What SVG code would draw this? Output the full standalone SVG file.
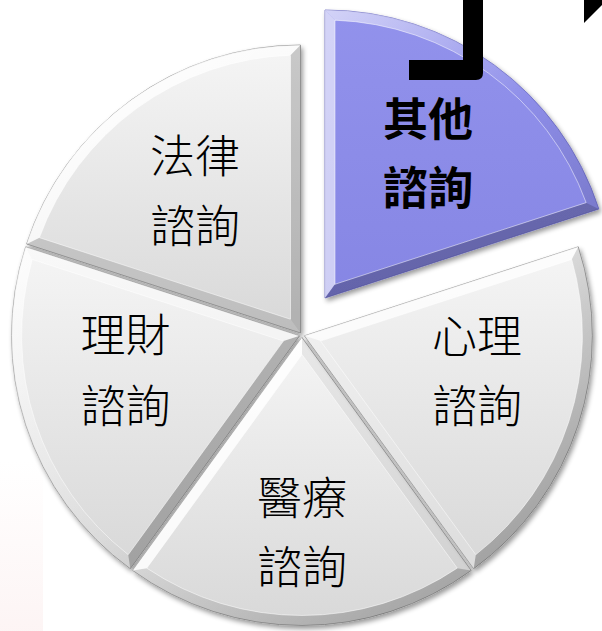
<svg xmlns="http://www.w3.org/2000/svg" width="602" height="631" viewBox="0 0 602 631">
<style>
.base{stroke:#8f8f8f;stroke-width:0.8}
.gray{fill:url(#gGray)}
.purple{fill:url(#gPurple)}
.arc{fill:url(#gArc)}
.hi{fill:#fff}
.lo{fill:#000}
.ridge{fill:none;stroke:#fff;stroke-opacity:0.5;stroke-width:1}
.t{font-family:"Noto Sans CJK TC","Microsoft JhengHei",sans-serif;font-size:45px;font-weight:300;fill:#000;text-anchor:middle}
.tb{font-weight:700}
</style>
<defs>
<linearGradient id="gGray" x1="0" y1="0" x2="0" y2="1">
<stop offset="0" stop-color="#f5f5f5"/>
<stop offset="1" stop-color="#d8d8d8"/>
</linearGradient>
<linearGradient id="gPurple" x1="0" y1="0" x2="0" y2="1">
<stop offset="0" stop-color="#9292ec"/>
<stop offset="1" stop-color="#8686e4"/>
</linearGradient>
<linearGradient id="gArc" gradientUnits="userSpaceOnUse" x1="-204" y1="-204" x2="204" y2="204">
<stop offset="0" stop-color="#fff" stop-opacity="0.85"/>
<stop offset="0.5" stop-color="#fff" stop-opacity="0"/>
<stop offset="0.5" stop-color="#000" stop-opacity="0"/>
<stop offset="1" stop-color="#000" stop-opacity="0.25"/>
</linearGradient>
<linearGradient id="gPink" x1="0" y1="0" x2="0" y2="1">
<stop offset="0" stop-color="#fbecec" stop-opacity="0"/>
<stop offset="1" stop-color="#fbecec" stop-opacity="0.55"/>
</linearGradient>
<filter id="sh" x="-10%" y="-10%" width="125%" height="125%">
<feGaussianBlur in="SourceAlpha" stdDeviation="2.5"/>
<feOffset dx="1.5" dy="2.5"/>
<feComponentTransfer><feFuncA type="linear" slope="0.4"/></feComponentTransfer>
<feMerge><feMergeNode/><feMergeNode in="SourceGraphic"/></feMerge>
</filter>
</defs>
<rect x="0" y="0" width="602" height="631" fill="#fff"/>
<rect x="0" y="460" width="43" height="171" fill="url(#gPink)"/>

<g id="node-legal">
<g transform="translate(300.5,333)" filter="url(#sh)">
<path class="gray base" d="M0,0 L-273.91,-89 A288,288 0 0 1 0,-288 Z"/>
<path class="lo" fill-opacity="0.12" d="M0,0 L-273.91,-89 L-261.13,-95.36 L-9.99,-13.75 Z"/>
<path class="arc" d="M-273.91,-89 A288,288 0 0 1 0,-288 L-9.99,-277.82 A278,278 0 0 0 -261.13,-95.36 Z"/>
<path class="lo" fill-opacity="0.18" d="M0,0 L0,-288 L-9.99,-277.82 L-9.99,-13.75 Z"/>
<path class="ridge" d="M-9.99,-13.75 L-261.13,-95.36 A278,278 0 0 1 -9.99,-277.82 Z"/>
</g>
<text class="t" x="195" y="173">法律</text>
<text class="t" x="195" y="243">諮詢</text>
</g>

<g id="node-finance">
<g transform="translate(299.6,335.8)" filter="url(#sh)">
<path class="gray base" d="M0,0 L-169.28,233 A288,288 0 0 1 -273.91,-89 Z"/>
<path class="lo" fill-opacity="0.25" d="M0,0 L-169.28,233 L-171.38,218.89 L-16.17,5.25 Z"/>
<path class="arc" d="M-169.28,233 A288,288 0 0 1 -273.91,-89 L-267.31,-76.35 A278,278 0 0 0 -171.38,218.89 Z"/>
<path class="hi" fill-opacity="0.38" d="M0,0 L-273.91,-89 L-267.31,-76.35 L-16.17,5.25 Z"/>
<path class="ridge" d="M-16.17,5.25 L-171.38,218.89 A278,278 0 0 1 -267.31,-76.35 Z"/>
</g>
<text class="t" x="125.5" y="352">理財</text>
<text class="t" x="125.5" y="423">諮詢</text>
</g>

<g id="node-medical">
<g transform="translate(302,337.5)" filter="url(#sh)">
<path class="gray base" d="M0,0 L169.28,233 A288,288 0 0 1 -169.28,233 Z"/>
<path class="lo" fill-opacity="0.05" d="M0,0 L169.28,233 L155.22,230.63 L0,17 Z"/>
<path class="arc" d="M169.28,233 A288,288 0 0 1 -169.28,233 L-155.22,230.63 A278,278 0 0 0 155.22,230.63 Z"/>
<path class="hi" fill-opacity="0.84" d="M0,0 L-169.28,233 L-155.22,230.63 L0,17 Z"/>
<path class="ridge" d="M0,17 L155.22,230.63 A278,278 0 0 1 -155.22,230.63 Z"/>
</g>
<text class="t" x="302" y="515">醫療</text>
<text class="t" x="302" y="584">諮詢</text>
</g>

<g id="node-psych">
<g transform="translate(304.4,335.8)" filter="url(#sh)">
<path class="gray base" d="M0,0 L273.91,-89 A288,288 0 0 1 169.28,233 Z"/>
<path class="hi" fill-opacity="0.75" d="M0,0 L273.91,-89 L267.31,-76.35 L16.17,5.25 Z"/>
<path class="arc" d="M273.91,-89 A288,288 0 0 1 169.28,233 L171.38,218.89 A278,278 0 0 0 267.31,-76.35 Z"/>
<path class="hi" fill-opacity="0.13" d="M0,0 L169.28,233 L171.38,218.89 L16.17,5.25 Z"/>
<path class="ridge" d="M16.17,5.25 L267.31,-76.35 A278,278 0 0 1 171.38,218.89 Z"/>
</g>
<text class="t" x="477" y="353">心理</text>
<text class="t" x="477" y="423">諮詢</text>
</g>

<g id="node-other">
<g transform="translate(325,298)" filter="url(#sh)">
<path class="purple" stroke="#6a6ac0" stroke-width="0.8" d="M0,0 L0,-288 A288,288 0 0 1 273.91,-89 Z"/>
<path class="hi" fill-opacity="0.6" d="M0,0 L0,-288 L9.99,-277.82 L9.99,-13.75 Z"/>
<path class="arc" d="M0,-288 A288,288 0 0 1 273.91,-89 L261.13,-95.36 A278,278 0 0 0 9.99,-277.82 Z"/>
<path class="lo" fill-opacity="0.25" d="M0,0 L273.91,-89 L261.13,-95.36 L9.99,-13.75 Z"/>
<path class="ridge" d="M9.99,-13.75 L9.99,-277.82 A278,278 0 0 1 261.13,-95.36 Z"/>
</g>
<text class="t tb" x="428" y="136">其他</text>
<text class="t tb" x="428" y="205">諮詢</text>
</g>

<g id="connectors">
<path fill="#000" d="M463,0 L483,0 L483,73 Q483,80 476,80 L409,80 L409,60 L463,60 Z"/>
<path fill="#000" d="M584,0 L607,0 L584,23 Z"/>
</g>
</svg>
